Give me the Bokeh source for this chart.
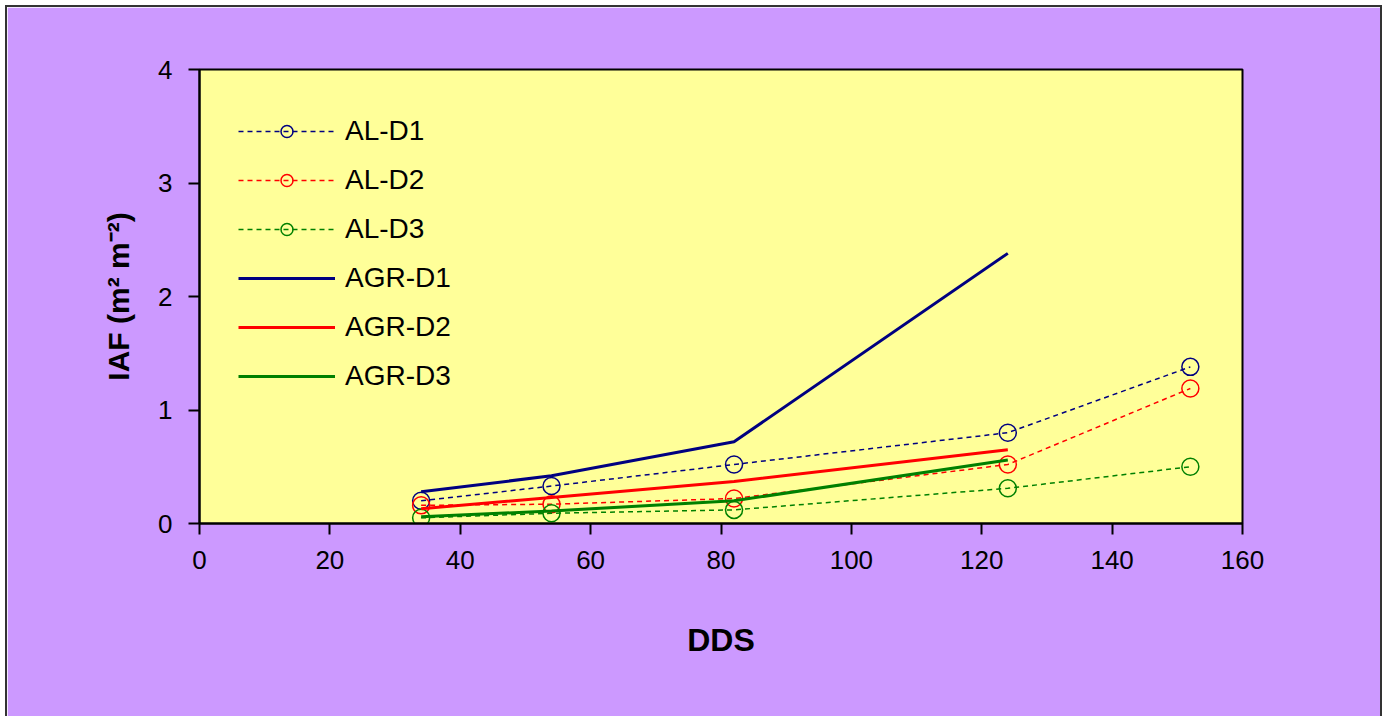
from bokeh.plotting import figure
from bokeh.models import Legend, LegendItem, FixedTicker, Range1d
from bokeh.embed import file_html
from bokeh.resources import INLINE

# Data (days after sowing vs leaf area index)
dds_al = [34, 54, 82, 124, 152]
al_d1 = [0.20, 0.33, 0.52, 0.80, 1.38]
al_d2 = [0.16, 0.17, 0.22, 0.52, 1.19]
al_d3 = [0.05, 0.09, 0.12, 0.31, 0.50]

dds_agr = [34, 54, 82, 124]
agr_d1 = [0.28, 0.42, 0.72, 2.38]
agr_d2 = [0.13, 0.23, 0.37, 0.65]
agr_d3 = [0.06, 0.11, 0.20, 0.56]

x_ticks = [0, 20, 40, 60, 80, 100, 120, 140, 160]
y_ticks = [0, 1, 2, 3, 4]

NAVY = "#000080"
RED = "#FF0000"
GREEN = "#008000"
FONT = "Liberation Sans"

p = figure(width=1373, height=709, output_backend="svg", toolbar_location=None,
           x_range=Range1d(0, 160), y_range=Range1d(0, 4),
           min_border_left=192, min_border_right=138, min_border_top=62, min_border_bottom=193,
           background_fill_color="#FFFF99", border_fill_color="#CC99FF",
           outline_line_color="#000000", outline_line_width=2,
           margin=(7, 0, 0, 7))
p.styles = {"outline": "2px solid #333333"}

p.xgrid.visible = False
p.ygrid.visible = False

for ax in (p.xaxis[0], p.yaxis[0]):
    ax.axis_line_color = "#000000"
    ax.axis_line_width = 2
    ax.major_tick_line_color = "#000000"
    ax.major_tick_line_width = 2
    ax.major_tick_out = 11
    ax.major_tick_in = 0
    ax.minor_tick_line_color = None
    ax.major_label_text_font = FONT
    ax.major_label_text_font_size = "26px"
    ax.major_label_text_color = "#000000"
    ax.axis_label_text_font = FONT
    ax.axis_label_text_font_style = "bold"
    ax.axis_label_text_color = "#000000"

p.xaxis.ticker = FixedTicker(ticks=x_ticks)
p.yaxis.ticker = FixedTicker(ticks=y_ticks)
p.xaxis.major_label_standoff = 16
p.yaxis.major_label_standoff = 16
p.xaxis.axis_label = "DDS"
p.xaxis.axis_label_text_font_size = "32px"
p.xaxis.axis_label_standoff = 50
p.yaxis.axis_label = "IAF (m² m⁻²)"
p.yaxis.axis_label_text_font_size = "30px"
p.yaxis.axis_label_standoff = 20

items = []
for ys, col, name in [(al_d1, NAVY, "AL-D1"), (al_d2, RED, "AL-D2"), (al_d3, GREEN, "AL-D3")]:
    l = p.line(dds_al, ys, line_color=col, line_width=1.5, line_dash="5 4")
    s = p.scatter(dds_al, ys, marker="circle", size=17, fill_color=None,
                  line_color=col, line_width=1.5)
    items.append(LegendItem(label=name, renderers=[l, s]))

for ys, col, name in [(agr_d1, NAVY, "AGR-D1"), (agr_d2, RED, "AGR-D2"), (agr_d3, GREEN, "AGR-D3")]:
    l = p.line(dds_agr, ys, line_color=col, line_width=3)
    items.append(LegendItem(label=name, renderers=[l]))

legend = Legend(items=items, location=(39, 131), margin=0, padding=0,
                border_line_color=None, background_fill_alpha=0,
                glyph_width=97, glyph_height=30, label_height=30,
                spacing=17, label_standoff=10,
                label_text_font=FONT, label_text_font_size="28px",
                label_text_color="#000000")
p.add_layout(legend)

open("out.html", "w").write(file_html(p, INLINE))
